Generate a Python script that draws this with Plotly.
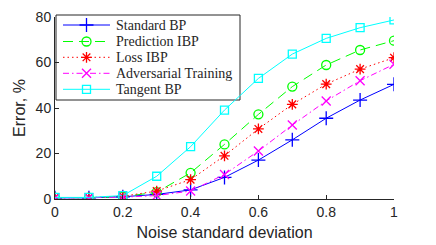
import plotly.graph_objects as go

# ---- data ----
noise = [0, 0.1, 0.2, 0.3, 0.4, 0.5, 0.6, 0.7, 0.8, 0.9, 1.0]
standard_bp = [0.5, 0.5, 1.0, 2.0, 4.0, 9.5, 17.1, 26.0, 35.5, 43.5, 50.4]
prediction_ibp = [0.6, 0.6, 1.0, 3.0, 11.5, 24.0, 37.2, 49.4, 58.9, 65.5, 69.6]
loss_ibp = [0.6, 0.6, 1.2, 3.5, 8.5, 19.0, 30.8, 41.6, 50.5, 57.1, 62.1]
adversarial = [0.5, 0.5, 0.8, 1.5, 3.5, 10.8, 21.1, 32.5, 43.1, 52.0, 59.2]
tangent_bp = [0.7, 0.7, 1.5, 10.0, 23.0, 39.1, 53.0, 63.7, 70.6, 75.3, 78.7]

series_names = ["Standard BP", "Prediction IBP", "Loss IBP",
                "Adversarial Training", "Tangent BP"]
series_values = [standard_bp, prediction_ibp, loss_ibp, adversarial, tangent_bp]
x_ticks = [0, 0.2, 0.4, 0.6, 0.8, 1]
x_tick_labels = ["0", "0.2", "0.4", "0.6", "0.8", "1"]
y_ticks = [0, 20, 40, 60, 80]

# ---- styles ----
colors = ["#0000ff", "#00ff00", "#ff0000", "#ff00ff", "#00ffff"]
dashes = ["solid", "10px,6px", "1.5px,3px", "6px,3px,1.5px,3px", "solid"]
symbols = ["cross-thin", "circle-open", "asterisk", "x-thin", "square-open"]
sizes = [10, 9, 9, 9, 8]

fig = go.Figure()
for name, vals, color, dash, sym, sz in zip(series_names, series_values, colors,
                                             dashes, symbols, sizes):
    fig.add_trace(go.Scatter(
        x=noise, y=vals, name=name, mode="lines+markers", showlegend=False,
        line=dict(color=color, width=1, dash=dash),
        marker=dict(symbol=sym, size=sz, color=color,
                    line=dict(color=color, width=1.3)),
    ))

# ---- custom legend (pixel-like overlay axes: x 55..394, y 17..199) ----
PX_L, PX_R, PX_T, PX_B = 55, 394, 17, 199
row_y = [25, 41.5, 57.3, 73.3, 89.3]
sample_x0, sample_x1 = 63, 110
text_x = 114

def paper_x(px):
    return (px - PX_L) / (PX_R - PX_L)

def paper_y(py):
    return (PX_B - py) / (PX_B - PX_T)

fig.add_shape(type="rect", xref="paper", yref="paper",
              x0=paper_x(56), x1=paper_x(240), y0=paper_y(100), y1=paper_y(15),
              line=dict(color="#262626", width=1), fillcolor="white", layer="below")

for name, color, dash, sym, sz, ry in zip(series_names, colors, dashes, symbols, sizes, row_y):
    fig.add_trace(go.Scatter(
        x=[sample_x0, (sample_x0 + sample_x1) / 2, sample_x1], y=[ry, ry, ry],
        xaxis="x2", yaxis="y2", mode="lines+markers", showlegend=False,
        hoverinfo="skip", cliponaxis=False,
        line=dict(color=color, width=1, dash=dash),
        marker=dict(symbol=sym, size=sz, color=color, opacity=[0, 1, 0],
                    line=dict(color=color, width=1.3)),
    ))
    fig.add_annotation(x=text_x, y=ry, xref="x2", yref="y2", text=name,
                       showarrow=False, xanchor="left", yanchor="middle",
                       font=dict(family="Liberation Serif", size=14, color="#262626"))

axis_common = dict(
    showline=True, linecolor="#262626", linewidth=1, mirror=False,
    ticks="inside", ticklen=4, tickcolor="#262626",
    showgrid=False, zeroline=False, automargin=False,
    tickfont=dict(family="Liberation Sans", size=14, color="#262626"),
)

fig.update_layout(
    width=436, height=245,
    margin=dict(l=47, r=50, t=9, b=54),
    paper_bgcolor="white", plot_bgcolor="white",
    showlegend=False,
    xaxis=dict(range=[0, 1], tickvals=x_ticks, ticktext=x_tick_labels,
               title=dict(text="Noise standard deviation", standoff=8,
                          font=dict(family="Liberation Sans", size=16, color="#262626")),
               **axis_common),
    yaxis=dict(range=[0, 80], tickvals=y_ticks,
               title=dict(text="Error, %", standoff=6,
                          font=dict(family="Liberation Sans", size=16, color="#262626")),
               **axis_common),
    xaxis2=dict(overlaying="x", range=[PX_L, PX_R], visible=False, fixedrange=True),
    yaxis2=dict(overlaying="y", range=[PX_B, PX_T], visible=False, fixedrange=True),
)

fig.write_html("out.html")
